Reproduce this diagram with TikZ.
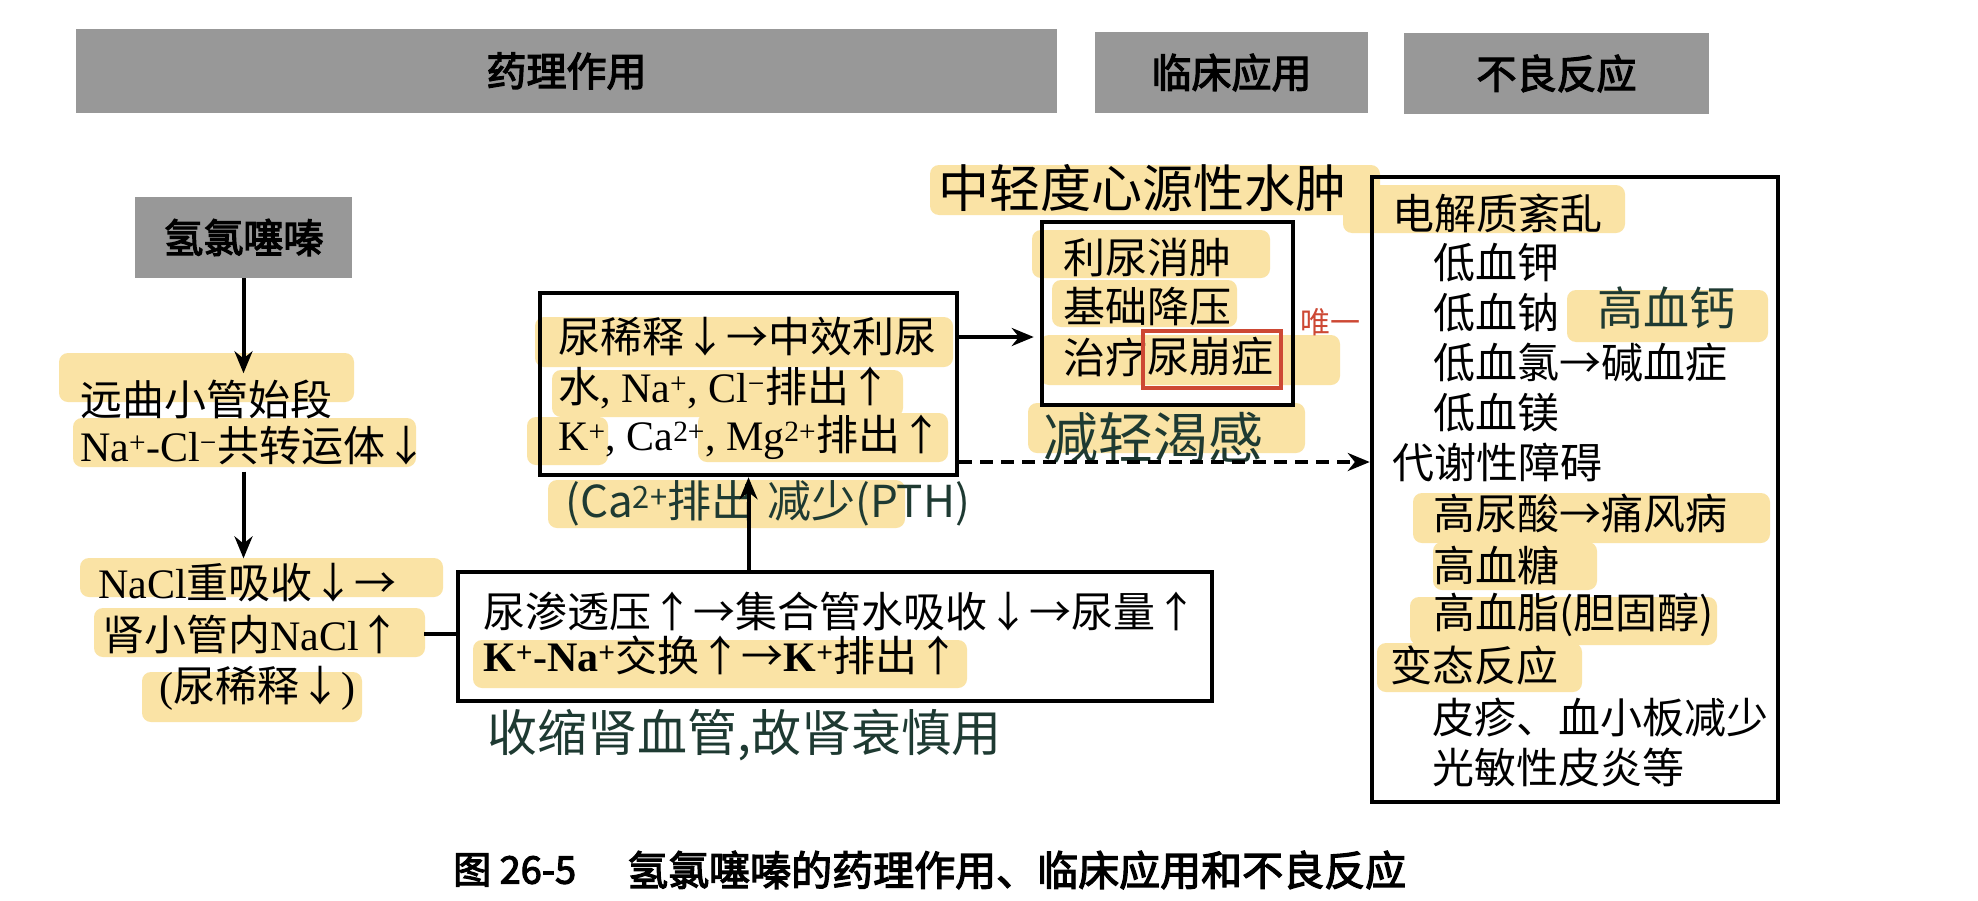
\documentclass[tikz,border=0pt]{standalone}
\usepackage{fontspec}
\setmainfont{Noto Sans CJK SC}
\newfontfamily\lat{Liberation Serif}
\newfontfamily\cjkb[FakeBold=3]{Noto Sans CJK SC}
\usetikzlibrary{arrows.meta,calc}
\definecolor{hly}{RGB}{250,227,165}
\definecolor{bargray}{RGB}{152,152,152}
\definecolor{ink}{RGB}{30,58,50}
\definecolor{redbox}{RGB}{205,72,52}
\newcommand\LA[1]{{\lat #1}}
\newcommand\fs[1]{\fontsize{#1}{#1}\selectfont}
\begin{document}
\begin{tikzpicture}[x=1pt,y=-1pt,
  txt/.style={anchor=west,inner sep=0pt,font=\fs{42}},
  hl/.style={fill=hly,rounded corners=9pt},
  frame/.style={draw,line width=4.5pt,inner sep=0pt},
  bar/.style={fill=bargray,inner sep=0pt,font=\cjkb\fs{40}},
  arr/.style={line width=4pt,-{Stealth[length=22pt,width=18pt]}},
  hand/.style={anchor=west,inner sep=0pt,text=ink},
]
\useasboundingbox[fill=white] (0,0) rectangle (1978,900);

% highlights
\fill[hl] (59,353) rectangle (354,402);
\fill[hl] (73,418) rectangle (416,467);
\fill[hl] (80,558) rectangle (443,597);
\fill[hl] (94,608) rectangle (425,657);
\fill[hl] (142,672) rectangle (362,722);
\fill[hl] (535,317) rectangle (953,367);
\fill[hl] (552,370) rectangle (903,417);
\fill[hl] (527,417) rectangle (608,465);
\fill[hl] (698,413) rectangle (948,462);
\fill[hl] (548,480) rectangle (905,528);
\fill[hl] (473,640) rectangle (967,688);
\fill[hl] (930,165) rectangle (1380,215);
\fill[hl] (1032,230) rectangle (1270,278);
\fill[hl] (1052,280) rectangle (1237,327);
\fill[hl] (1040,335) rectangle (1340,385);
\fill[hl] (1028,403) rectangle (1305,453);
\fill[hl] (1343,185) rectangle (1625,233);
\fill[hl] (1567,290) rectangle (1768,342);
\fill[hl] (1413,493) rectangle (1770,543);
\fill[hl] (1433,542) rectangle (1597,590);
\fill[hl] (1410,597) rectangle (1717,645);
\fill[hl] (1377,643) rectangle (1582,692);

% header bars
\node[bar,minimum width=981pt,minimum height=84pt] (h1) at (566.5,71) {药理作用};
\node[bar,minimum width=273pt,minimum height=81pt] (h2) at (1231.5,72.5) {临床应用};
\node[bar,minimum width=305pt,minimum height=81pt] (h3) at (1556.5,73.5) {不良反应};

% drug
\node[bar,minimum width=217pt,minimum height=81pt] (drug) at (243.5,237.5) {氢氯噻嗪};

% boxes
\node[frame,minimum width=417pt,minimum height=182pt] (boxA) at (748.5,384) {};
\node[frame,minimum width=754pt,minimum height=129pt] (boxB) at (835,636.5) {};
\node[frame,minimum width=251pt,minimum height=183pt] (boxC) at (1167.5,313.5) {};
\node[frame,minimum width=406pt,minimum height=625pt] (boxD) at (1575,489.5) {};

% left column
\node[txt] (n1) at (80,399) {远曲小管始段};
\node[txt] (n2) at (80,446) {\LA{Na\textsuperscript{+}-Cl\textsuperscript{−}}共转运体↓};
\node[txt] (n3) at (98,583) {\LA{NaCl}重吸收↓→};
\node[txt] (n4) at (102,634) {肾小管内\LA{NaCl}↑};
\node[txt] (n5) at (159,688) {\LA{(}尿稀释↓\LA{)}};

% box A
\node[txt] (a1) at (558,337) {尿稀释↓→中效利尿};
\node[txt] (a2) at (558,388) {水\LA{, Na\textsuperscript{+}, Cl\textsuperscript{−}}排出↑};
\node[txt] (a3) at (558,437) {\LA{K\textsuperscript{+}, Ca\textsuperscript{2+}, Mg\textsuperscript{2+}}排出↑};

% box B
\node[txt] (b1) at (483,612) {尿渗透压↑→集合管水吸收↓→尿量↑};
\node[txt] (b2) at (483,655) {\LA{\bfseries K\textsuperscript{+}-Na\textsuperscript{+}}交换↑→\LA{\bfseries K\textsuperscript{+}}排出↑};

% box C
\node[txt,font=\fs{51}] (clin) at (938,188) {中轻度心源性水肿};
\node[txt] (c1) at (1063,258) {利尿消肿};
\node[txt] (c2) at (1063,307) {基础降压};
\node[txt] (c3) at (1063,357) {治疗};
\node[txt] (c4) at (c3.east) {尿崩症};
\draw[redbox,line width=4pt] ($(c4.north west)+(-4,-6)$) rectangle ($(c4.south east)+(7,11)$);

% box D
\node[txt] (d1) at (1392,213) {电解质紊乱};
\node[txt] (d2) at (1433,263) {低血钾};
\node[txt] (d3) at (1433,313) {低血钠};
\node[txt] (d4) at (1433,363) {低血氯→碱血症};
\node[txt] (d5) at (1433,413) {低血镁};
\node[txt] (d6) at (1392,462) {代谢性障碍};
\node[txt] (d7) at (1433,513) {高尿酸→痛风病};
\node[txt] (d8) at (1433,565) {高血糖};
\node[txt] (d9) at (1433,615) {高血脂(胆固醇)};
\node[txt] (d10) at (1390,665) {变态反应};
\node[txt] (d11) at (1432,717) {皮疹、血小板减少};
\node[txt] (d12) at (1432,767) {光敏性皮炎等};

% handwritten notes
\node[hand,font=\fs{44}] (hw1) at (565,503) {(Ca\textsuperscript{2+}排出};
\node[hand,font=\fs{44}] (hw2) at (767,503) {减少(PTH)};
\node[hand,font=\fs{55}] (hw3) at (1043,438) {减轻渴感};
\node[hand,font=\fs{30},text=redbox] (hw4) at (1300,322) {唯一};
\node[hand,font=\fs{46}] (hw5) at (1597,308) {高血钙};
\node[hand,font=\fs{50}] (hw6) at (487,735) {收缩肾血管,故肾衰慎用};

% connectors
\draw[arr] (drug.south) -- ([yshift=6pt]drug.south |- n1.north);
\draw[arr] ([yshift=-6pt]n2.south -| drug.south) -- ([yshift=5pt]n3.north -| drug.south);
\draw[line width=4pt] ([xshift=23pt]n4.east) -- (boxB.west |- n4.east);
\draw[arr] (boxB.north -| boxA.south) -- (boxA.south);
\draw[arr] (boxA.east |- a1.east) -- ([xshift=-6pt]boxC.west |- a1.east);
\draw[arr,dash pattern=on 13pt off 8pt] (boxA.east |- d6.west) -- (boxD.west |- d6.west);

% caption
\node[txt,font=\cjkb\fs{38}] (cap1) at (453,870) {图 26-5};
\node[txt,font=\cjkb\fs{41}] (cap2) at (627,870) {氢氯噻嗪的药理作用、临床应用和不良反应};
\end{tikzpicture}
\end{document}
